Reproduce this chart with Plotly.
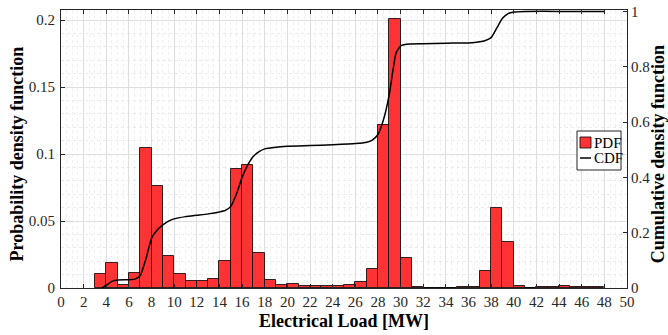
import plotly.graph_objects as go

# ---- data ----
bin_left = list(range(3, 48))  # 1 MW bins, left edges
pdf_values = [
    0.0102, 0.0190, 0.0022, 0.0114, 0.1045, 0.0760, 0.0240, 0.0104, 0.0052, 0.0052,  # 3-12
    0.0067, 0.0200, 0.0890, 0.0915, 0.0263, 0.0060, 0.0022, 0.0030, 0.0016, 0.0016,  # 13-22
    0.0016, 0.0013, 0.0025, 0.0045, 0.0140, 0.1215, 0.2005, 0.0225, 0.0005, 0.0,     # 23-32
    0.0, 0.0, 0.0005, 0.0010, 0.0127, 0.0600, 0.0340, 0.0012, 0.0003, 0.0007,        # 33-42
    0.0008, 0.0012, 0.0006, 0.0005, 0.0005,                                          # 43-47
]

cdf_x = [3.6, 4.0, 4.5, 5.0, 6.0, 6.6, 7.0, 7.5, 8.0, 8.5, 9.0, 9.5, 10, 11, 12, 13, 14,
         14.5, 15, 15.5, 16, 16.5, 17, 17.5, 18, 19, 20, 22, 24, 26, 27, 27.5, 28, 28.5,
         29, 29.3, 29.6, 30, 30.5, 32, 34, 36, 37, 37.5, 38, 38.5, 39, 39.5, 40, 41, 44, 48]
cdf_y = [0.0, 0.010, 0.024, 0.029, 0.030, 0.033, 0.045, 0.105, 0.180, 0.210, 0.228, 0.242,
         0.250, 0.258, 0.263, 0.268, 0.275, 0.280, 0.295, 0.340, 0.400, 0.445, 0.476, 0.493,
         0.503, 0.509, 0.512, 0.515, 0.518, 0.522, 0.527, 0.535, 0.555, 0.610, 0.700, 0.780,
         0.850, 0.875, 0.881, 0.883, 0.885, 0.886, 0.890, 0.895, 0.905, 0.940, 0.975, 0.992,
         0.998, 1.0, 1.0, 1.0]

x_ticks = list(range(0, 51, 2))
y_left_ticks = [0, 0.05, 0.1, 0.15, 0.2]
y_right_ticks = [0, 0.2, 0.4, 0.6, 0.8, 1.0]

FONT = "Liberation Serif"
AX = "#262626"

fig = go.Figure()
fig.add_trace(go.Bar(
    x=bin_left, y=pdf_values, offset=0, width=1,
    marker=dict(color="#ff3333", line=dict(color="rgba(0,0,0,0.8)", width=1)),
    name="PDF", showlegend=False,
))
fig.add_trace(go.Scatter(
    x=cdf_x, y=cdf_y, yaxis="y2", mode="lines",
    line=dict(color="black", width=1.5, shape="spline", smoothing=0.5),
    name="CDF", showlegend=False,
))

fig.update_layout(
    width=668, height=335,
    margin=dict(l=61, r=41, t=10, b=47, autoexpand=False),
    paper_bgcolor="white", plot_bgcolor="white",
    font=dict(family=FONT, size=15, color=AX),
    bargap=0,
    xaxis=dict(
        range=[0, 50], tickvals=x_ticks, ticks="inside", ticklen=4, tickcolor=AX,
        showline=True, linecolor=AX, linewidth=1, mirror="ticks", automargin=False,
        showgrid=True, gridcolor="#dedede", gridwidth=1,
        minor=dict(dtick=0.5, showgrid=True, gridcolor="#f0f0f0", griddash="dot"),
        zeroline=False, tickfont=dict(size=15, family=FONT, color=AX),
    ),
    yaxis=dict(
        range=[0, 0.2075], tickvals=y_left_ticks, ticks="inside", ticklen=4, tickcolor=AX,
        showline=True, linecolor=AX, linewidth=1, automargin=False,
        showgrid=True, gridcolor="#dedede", gridwidth=1,
        minor=dict(dtick=0.01, showgrid=True, gridcolor="#ebebeb", griddash="dot"),
        zeroline=False, tickfont=dict(size=15, family=FONT, color=AX),
        ticklabelstandoff=2,
    ),
    yaxis2=dict(
        range=[0, 1.005], tickvals=y_right_ticks, overlaying="y", side="right",
        ticks="inside", ticklen=4, tickcolor=AX, automargin=False,
        showline=True, linecolor=AX, linewidth=1, showgrid=False, zeroline=False,
        tickfont=dict(size=15, family=FONT, color=AX),
    ),
    showlegend=False,
)

# axis titles
title_font = dict(family=FONT, size=18, color="black")
fig.add_annotation(text="<b>Electrical Load [MW]</b>", xref="paper", yref="paper",
                   x=0.5, y=-0.119, showarrow=False, font=title_font,
                   xanchor="center", yanchor="middle")
fig.add_annotation(text="<b>Probability density function</b>", xref="paper", yref="paper",
                   x=-0.0786, y=0.482, showarrow=False, font=title_font, textangle=-90,
                   xanchor="center", yanchor="middle")
fig.add_annotation(text="<b>Cumulative density function</b>", xref="paper", yref="paper",
                   x=1.055, y=0.482, showarrow=False, font=title_font, textangle=-90,
                   xanchor="center", yanchor="middle")

# legend (drawn manually to match small symbols)
def px_x(p):
    return (p - 61) / 566.0

def px_y(p):
    return (288 - p) / 278.0

fig.add_shape(type="rect", xref="paper", yref="paper",
              x0=px_x(577), x1=px_x(621), y0=px_y(170), y1=px_y(131),
              line=dict(color=AX, width=1), fillcolor="white", layer="above")
fig.add_shape(type="rect", xref="paper", yref="paper",
              x0=px_x(580), x1=px_x(591), y0=px_y(148), y1=px_y(137),
              line=dict(color="rgba(0,0,0,0.8)", width=1), fillcolor="#ff3333", layer="above")
fig.add_shape(type="line", xref="paper", yref="paper",
              x0=px_x(580), x1=px_x(591), y0=px_y(158), y1=px_y(158),
              line=dict(color="black", width=1.5), layer="above")
leg_font = dict(family=FONT, size=15, color="black")
fig.add_annotation(text="PDF", xref="paper", yref="paper", x=px_x(591.5), y=px_y(142.5),
                   showarrow=False, font=leg_font, xanchor="left", yanchor="middle")
fig.add_annotation(text="CDF", xref="paper", yref="paper", x=px_x(591.5), y=px_y(158),
                   showarrow=False, font=leg_font, xanchor="left", yanchor="middle")

fig.write_html("out.html", config={"displayModeBar": False})

# remove the browser's default page margin so the figure sits at (0, 0)
with open("out.html", "r", encoding="utf-8") as f:
    html = f.read()
html = html.replace("<head>", "<head><style>html,body{margin:0;padding:0;overflow:hidden;}</style>", 1)
with open("out.html", "w", encoding="utf-8") as f:
    f.write(html)
